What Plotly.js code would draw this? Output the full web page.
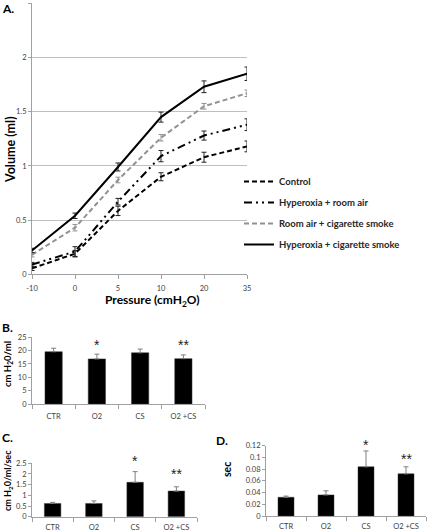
<!DOCTYPE html>
<html>
<head>
<meta charset="utf-8">
<script src="https://cdn.plot.ly/plotly-3.0.1.min.js"></script>
<style>html,body{margin:0;padding:0;background:#fff;}#chart{width:428px;height:531px;}</style>
</head>
<body>
<div id="chart"></div>
<script>
// ---- Panel A data ----
const pressure = ['-10', '0', '5', '10', '20', '35'];
const seriesNames = ['Control', 'Hyperoxia + room air', 'Room air + cigarette smoke', 'Hyperoxia + cigarette smoke'];
const control = [0.055, 0.19, 0.585, 0.90, 1.08, 1.18];
const controlErr = [0.02, 0.03, 0.043, 0.037, 0.046, 0.05];
const hyperRA = [0.09, 0.21, 0.67, 1.09, 1.28, 1.38];
const hyperRAErr = [0.02, 0.045, 0.03, 0.052, 0.042, 0.054];
const roomCS = [0.18, 0.43, 0.87, 1.26, 1.55, 1.67];
const roomCSErr = [0.02, 0.03, 0.026, 0.03, 0.026, 0.03];
const hyperCS = [0.22, 0.54, 0.99, 1.45, 1.73, 1.85];
const hyperCSErr = [0.02, 0.025, 0.037, 0.046, 0.054, 0.062];

// ---- Panels B, C, D data ----
const groups = ['CTR', 'O2', 'CS', 'O2 +CS'];
const elastance = [19.6, 16.9, 19.2, 17.0];
const elastanceErr = [1.3, 1.8, 1.4, 1.4];
const resistance = [0.62, 0.62, 1.61, 1.20];
const resistanceErr = [0.05, 0.12, 0.5, 0.2];
const timeConst = [0.032, 0.036, 0.084, 0.072];
const timeConstErr = [0.002, 0.007, 0.027, 0.012];
const starsB = ['', '*', '', '**'];
const starsBY = [0, 22.8, 0, 22.8];
const starsC = ['', '', '*', '**'];
const starsCY = [0, 0, 2.69, 2.08];
const starsD = ['', '', '*', '**'];
const starsDY = [0, 0, 0.125, 0.101];

const W = 428, H = 531;
const px = v => v / W;
const py = v => 1 - v / H;

const lineSeries = [
  {y: control, e: controlErr, color: '#000000', dash: '5px,3px'},
  {y: hyperRA, e: hyperRAErr, color: '#000000', dash: '8px,4px,2px,4px,2px,4px'},
  {y: roomCS, e: roomCSErr, color: '#929292', dash: '5px,3px'},
  {y: hyperCS, e: hyperCSErr, color: '#000000', dash: 'solid'}
];

const traces = lineSeries.map((s, i) => ({
  type: 'scatter', mode: 'lines', x: pressure, y: s.y, name: seriesNames[i],
  xaxis: 'x', yaxis: 'y', legendgroup: 'g' + i,
  line: {color: s.color, width: 2, dash: s.dash},
  error_y: {type: 'data', array: s.e, visible: true, color: s.color === '#000000' ? '#222222' : s.color, thickness: 1, width: 2.5}
}));

function barTrace(vals, errs, xa, ya) {
  return {
    type: 'bar', x: groups, y: vals, xaxis: xa, yaxis: ya, showlegend: false, width: 0.4,
    marker: {color: '#000000', line: {color: '#3a3a3a', width: 0.5}},
    error_y: {type: 'data', array: errs, arrayminus: errs.map(() => 0), symmetric: false, visible: true, color: '#7f7f7f', thickness: 1, width: 2.5}
  };
}
traces.push(barTrace(elastance, elastanceErr, 'x2', 'y2'));
traces.push(barTrace(resistance, resistanceErr, 'x3', 'y3'));
traces.push(barTrace(timeConst, timeConstErr, 'x4', 'y4'));

const axisCommon = {
  showline: true, linecolor: '#a0a0a0', linewidth: 1, ticks: 'outside', ticklen: 4, tickcolor: '#a0a0a0',
  zeroline: false, tickfont: {size: 7.5, color: '#404040'}, fixedrange: true
};

const annotations = [];
function addAnno(text, x, y, opts) {
  annotations.push(Object.assign({text: text, x: x, y: y, xref: 'paper', yref: 'paper', showarrow: false,
    font: {size: 12, color: '#000', weight: 'bold'}, xanchor: 'left', yanchor: 'middle'}, opts || {}));
}
addAnno('A.', px(0), py(9));
addAnno('B.', px(0), py(327));
addAnno('C.', px(0), py(437));
addAnno('D.', px(214), py(440));
addAnno('Volume (ml)', px(10), py(150), {textangle: -90, xanchor: 'center', font: {size: 12.5, color: '#000', weight: 'bold'}});
addAnno('Pressure (cmH<sub>2</sub>O)', px(152), py(300), {xanchor: 'center', font: {size: 12, color: '#000', weight: 'bold'}});
addAnno('cm H<sub>2</sub>0/ml', px(8), py(364), {textangle: -90, xanchor: 'center', font: {size: 9.5, color: '#000', weight: 'bold'}});
addAnno('cm H<sub>2</sub>0/ml/sec', px(8), py(481), {textangle: -90, xanchor: 'center', font: {size: 9, color: '#000', weight: 'bold'}});
addAnno('sec', px(227), py(470), {textangle: -90, xanchor: 'center', font: {size: 10.5, color: '#000', weight: 'bold'}});

// star annotations: clamp to top of axis range and shift upward in pixels
const axisTop = {y2: [25, 67 / 25], y3: [2.5, 53.4 / 2.5], y4: [0.12, 70.3 / 0.12]};
function addStars(labels, ys, xa, ya) {
  labels.forEach((t, i) => {
    if (!t) return;
    const top = axisTop[ya][0], scale = axisTop[ya][1];
    const yv = Math.min(ys[i], top);
    annotations.push({text: t, x: groups[i], y: yv, yshift: (ys[i] - yv) * scale - 2, xref: xa, yref: ya, showarrow: false,
      font: {family: '"Liberation Sans", Arial, sans-serif', size: 14, color: '#222222'}, xanchor: 'center', yanchor: 'middle'});
  });
}
addStars(starsB, starsBY, 'x2', 'y2');
addStars(starsC, starsCY, 'x3', 'y3');
addStars(starsD, starsDY, 'x4', 'y4');

const layout = {
  width: W, height: H, margin: {l: 0, r: 0, t: 0, b: 0}, autosize: false,
  paper_bgcolor: '#ffffff', plot_bgcolor: '#ffffff',
  font: {family: 'Lato, "Open Sans", sans-serif', color: '#404040'},
  showlegend: true,
  legend: {x: px(239), y: py(167), xanchor: 'left', yanchor: 'top', bgcolor: 'rgba(0,0,0,0)',
    font: {size: 9.5, color: '#262626', weight: 'bold'}, tracegroupgap: 2, itemwidth: 30},
  xaxis: Object.assign({}, axisCommon, {domain: [px(32), px(247)], anchor: 'y', type: 'category', range: [0, 5], showgrid: false, ticklabelstandoff: 3}),
  yaxis: Object.assign({}, axisCommon, {domain: [py(274.3), py(3.3)], anchor: 'x', range: [0, 2.5], dtick: 0.5,
    showgrid: true, gridcolor: '#bfbfbf', gridwidth: 1, ticklen: 3}),
  xaxis2: Object.assign({}, axisCommon, {domain: [px(32), px(205)], anchor: 'y2', type: 'category', range: [-0.5, 3.5], tickson: 'boundaries', showgrid: false, ticklabelstandoff: 5}),
  yaxis2: Object.assign({}, axisCommon, {domain: [py(404), py(337.3)], anchor: 'x2', range: [0, 25], dtick: 5, showgrid: false, ticklen: 3}),
  xaxis3: Object.assign({}, axisCommon, {domain: [px(32), px(197)], anchor: 'y3', type: 'category', range: [-0.5, 3.5], tickson: 'boundaries', showgrid: false, ticklabelstandoff: 3}),
  yaxis3: Object.assign({}, axisCommon, {domain: [py(516.7), py(463.3)], anchor: 'x3', range: [0, 2.5], dtick: 0.5, showgrid: false, ticklen: 3}),
  xaxis4: Object.assign({}, axisCommon, {domain: [px(266), px(426)], anchor: 'y4', type: 'category', range: [-0.5, 3.5], tickson: 'boundaries', showgrid: false, ticklabelstandoff: 3}),
  yaxis4: Object.assign({}, axisCommon, {domain: [py(516), py(445.7)], anchor: 'x4', range: [0, 0.12], dtick: 0.02, showgrid: false, ticklen: 3}),
  annotations: annotations
};

Plotly.newPlot('chart', traces, layout, {displayModeBar: false, staticPlot: true});
</script>
</body>
</html>
